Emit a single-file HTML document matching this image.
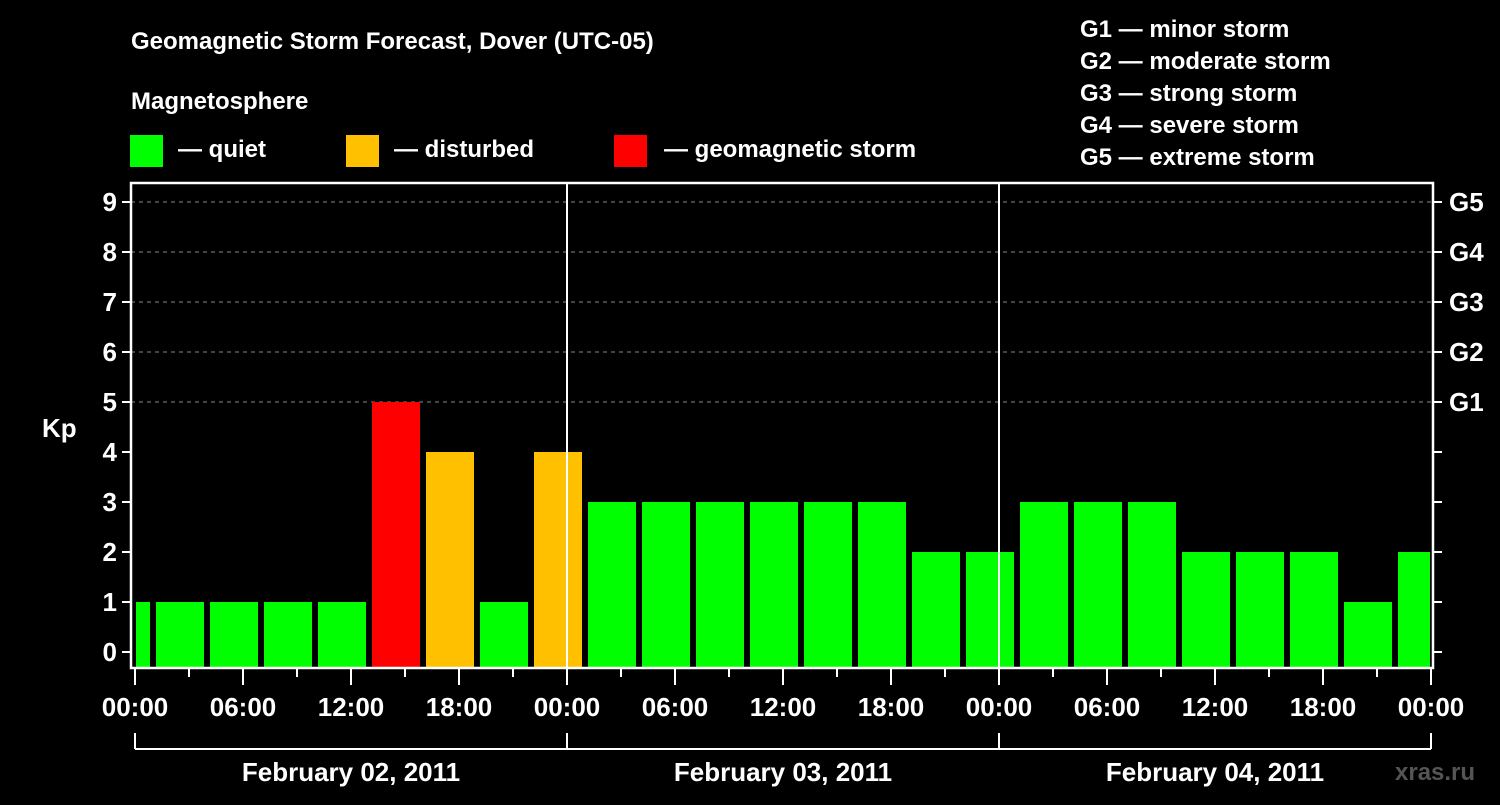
<!DOCTYPE html>
<html><head><meta charset="utf-8"><style>
body{margin:0;background:#000;width:1500px;height:800px;overflow:hidden}
svg text{font-family:"Liberation Sans",sans-serif;font-weight:bold;fill:#fff}
</style></head><body>
<svg id="chart" width="1500" height="800" xmlns="http://www.w3.org/2000/svg">
<text x="131" y="49" font-size="24">Geomagnetic Storm Forecast, Dover (UTC-05)</text>
<text x="131" y="109" font-size="24">Magnetosphere</text>
<g><rect x="130" y="135" width="33" height="32" fill="#00ff00"/><text x="178" y="157" font-size="24">— quiet</text></g>
<g><rect x="346" y="135" width="33" height="32" fill="#ffc000"/><text x="394" y="157" font-size="24">— disturbed</text></g>
<g><rect x="614" y="135" width="33" height="32" fill="#ff0000"/><text x="664" y="157" font-size="24">— geomagnetic storm</text></g>
<g font-size="24">
<text x="1080" y="37">G1 — minor storm</text>
<text x="1080" y="69">G2 — moderate storm</text>
<text x="1080" y="101">G3 — strong storm</text>
<text x="1080" y="133">G4 — severe storm</text>
<text x="1080" y="165">G5 — extreme storm</text>
</g>
<text x="42" y="437" font-size="26">Kp</text>
<text x="1395" y="780" font-size="24" fill="#555" style="fill:#555">xras.ru</text>
<g id="grid"></g><g id="bars"></g><g id="axes"></g>
</svg>
<script>
const kpValues=[1,1,1,1,1,5,4,1,4,3,3,3,3,3,3,2,2,3,3,3,2,2,2,1,2];
const yTicks=[0,1,2,3,4,5,6,7,8,9];
const gLabels=["G1","G2","G3","G4","G5"];
const xTickLabels=["00:00","06:00","12:00","18:00","00:00","06:00","12:00","18:00","00:00","06:00","12:00","18:00","00:00"];
const dayLabels=["February 02, 2011","February 03, 2011","February 04, 2011"];
const NS="http://www.w3.org/2000/svg";
const X0=135,PXH=18,FL=131,FR=1433,FT=183,FB=668;
const xs=h=>X0+h*PXH;
const ys=v=>652-50*v;
function mk(p,t,a){const e=document.createElementNS(NS,t);for(const k in a)e.setAttribute(k,a[k]);p.appendChild(e);return e;}
const grid=document.getElementById('grid'),bars=document.getElementById('bars'),axes=document.getElementById('axes');
yTicks.forEach(v=>{
 if(v>=5){const l=mk(grid,'line',{x1:FL,x2:FR,y1:ys(v),y2:ys(v),stroke:'#888','stroke-dasharray':'4,4'});
 
 }
 mk(axes,'line',{x1:FL-9,x2:FL,y1:ys(v),y2:ys(v),stroke:'#fff','stroke-width':2});
 mk(axes,'line',{x1:FR,x2:FR+9,y1:ys(v),y2:ys(v),stroke:'#fff','stroke-width':2});
 const t=mk(axes,'text',{x:FL-14,y:ys(v)+9,'font-size':26,'text-anchor':'end'});t.textContent=v;
 
 
});
gLabels.forEach((g,i)=>{const t=mk(axes,'text',{x:1449,y:ys(5+i)+9,'font-size':26});t.textContent=g;
 
 });
kpValues.forEach((v,i)=>{
 const c=xs(i*3-0.5);let x1=Math.max(c-24,X0+1),x2=Math.min(c+24,FR-3);
 const col=v>=5?'#ff0000':v==4?'#ffc000':'#00ff00';
 const r=mk(bars,'rect',{x:x1,y:ys(v),width:x2-x1,height:FB-ys(v),fill:col});
 
 
});
mk(axes,'rect',{x:FL,y:FT,width:FR-FL,height:FB-FT,fill:'none',stroke:'#fff','stroke-width':2.5});
[1,2].forEach(d=>mk(axes,'line',{x1:xs(d*24),x2:xs(d*24),y1:FT,y2:FB,stroke:'#fff','stroke-width':2}));
for(let h=0;h<=72;h+=3){mk(axes,'line',{x1:xs(h),x2:xs(h),y1:FB,y2:h%6==0?685:677,stroke:'#fff','stroke-width':2});}
xTickLabels.forEach((s,i)=>{const t=mk(axes,'text',{x:xs(i*6),y:716,'font-size':26,'text-anchor':'middle'});t.textContent=s;
 
 });
mk(axes,'line',{x1:xs(0),x2:xs(72),y1:749,y2:749,stroke:'#fff','stroke-width':2});
for(let d=0;d<=3;d++)mk(axes,'line',{x1:xs(d*24),x2:xs(d*24),y1:733,y2:749,stroke:'#fff','stroke-width':2});
dayLabels.forEach((s,i)=>{const t=mk(axes,'text',{x:xs(i*24+12),y:781,'font-size':26,'text-anchor':'middle'});t.textContent=s;
 
 });
</script>
</body></html>
